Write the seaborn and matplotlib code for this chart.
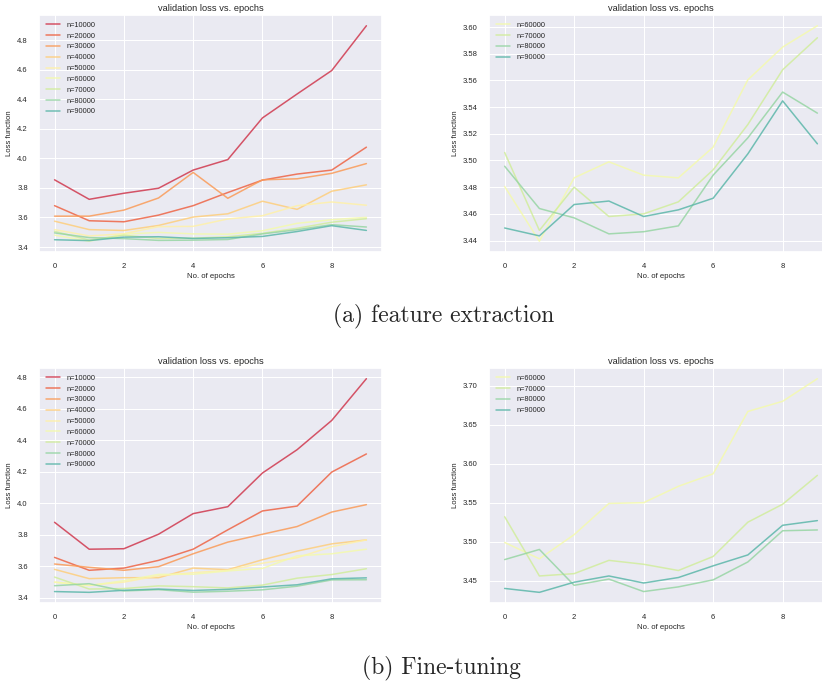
import numpy as np
import pandas as pd
import matplotlib.pyplot as plt
import seaborn as sns

epochs = list(range(10))
sizes = [10000, 20000, 30000, 40000, 50000, 60000, 70000, 80000, 90000]

# feature extraction
fe_10000 = [3.855, 3.723, 3.764, 3.798, 3.921, 3.992, 4.274, 4.436, 4.595, 4.898]
fe_20000 = [3.680, 3.578, 3.571, 3.616, 3.680, 3.769, 3.853, 3.894, 3.921, 4.076]
fe_30000 = [3.609, 3.609, 3.650, 3.732, 3.905, 3.730, 3.855, 3.862, 3.899, 3.965]
fe_40000 = [3.575, 3.518, 3.512, 3.546, 3.603, 3.625, 3.710, 3.655, 3.778, 3.821]
fe_50000 = [3.518, 3.475, 3.490, 3.538, 3.540, 3.590, 3.612, 3.680, 3.705, 3.683]
fe_60000 = [3.4805, 3.4395, 3.487, 3.499, 3.489, 3.487, 3.510, 3.5605, 3.585, 3.601]
fe_70000 = [3.506, 3.4476, 3.480, 3.458, 3.460, 3.469, 3.493, 3.527, 3.568, 3.592]
fe_80000 = [3.4957, 3.464, 3.457, 3.445, 3.4466, 3.451, 3.489, 3.517, 3.5513, 3.5355]
fe_90000 = [3.4494, 3.4435, 3.467, 3.4696, 3.458, 3.463, 3.4717, 3.505, 3.5447, 3.5125]

# fine-tuning
ft_10000 = [3.880, 3.709, 3.712, 3.804, 3.935, 3.979, 4.193, 4.341, 4.527, 4.792]
ft_20000 = [3.657, 3.575, 3.589, 3.638, 3.709, 3.832, 3.952, 3.983, 4.199, 4.314]
ft_30000 = [3.615, 3.594, 3.575, 3.598, 3.680, 3.754, 3.804, 3.853, 3.945, 3.992]
ft_40000 = [3.581, 3.522, 3.528, 3.528, 3.589, 3.579, 3.642, 3.697, 3.743, 3.768]
ft_50000 = [3.500, 3.480, 3.500, 3.540, 3.560, 3.575, 3.620, 3.655, 3.725, 3.768]
ft_60000 = [3.499, 3.478, 3.509, 3.549, 3.550, 3.571, 3.587, 3.667, 3.680, 3.709]
ft_70000 = [3.532, 3.456, 3.459, 3.476, 3.471, 3.463, 3.481, 3.525, 3.548, 3.585]
ft_80000 = [3.477, 3.490, 3.444, 3.452, 3.436, 3.442, 3.451, 3.474, 3.514, 3.515]
ft_90000 = [3.440, 3.435, 3.448, 3.456, 3.447, 3.454, 3.469, 3.483, 3.521, 3.527]

fe_all = [fe_10000, fe_20000, fe_30000, fe_40000, fe_50000,
          fe_60000, fe_70000, fe_80000, fe_90000]
ft_all = [ft_10000, ft_20000, ft_30000, ft_40000, ft_50000,
          ft_60000, ft_70000, ft_80000, ft_90000]

sns.set_theme(style="darkgrid")
plt.rcParams['font.family'] = ['Liberation Sans', 'DejaVu Sans']
plt.rcParams['grid.linewidth'] = 0.75

labels = [f"n={n}" for n in sizes]
colors = sns.color_palette("Spectral", 10)[:9]
pal = dict(zip(labels, colors))


def long_df(series, ns):
    rows = []
    for n, vals in zip(ns, series):
        for e, v in zip(epochs, vals):
            rows.append({"epoch": e, "loss": v, "n": f"n={n}"})
    return pd.DataFrame(rows)


def draw(ax, series, ns):
    df = long_df(series, ns)
    sns.lineplot(data=df, x="epoch", y="loss", hue="n",
                 palette={k: pal[k] for k in df["n"].unique()},
                 ax=ax, linewidth=1.1, alpha=0.85)
    sns.move_legend(ax, "upper left", frameon=False, title=None, fontsize=5.3)
    ax.set_title("validation loss vs. epochs", fontsize=6.7, pad=3)
    ax.set_xlabel("No. of epochs", fontsize=5.6, labelpad=2)
    ax.set_ylabel("Loss function", fontsize=5.6, labelpad=3)
    ax.tick_params(labelsize=5.5, pad=2)
    ax.set_xticks([0, 2, 4, 6, 8])


fig = plt.figure(figsize=(8.22, 6.81), dpi=100)

ax1 = fig.add_axes([0.0474, 0.630, 0.4173, 0.348])
ax2 = fig.add_axes([0.5949, 0.630, 0.4185, 0.348])
ax3 = fig.add_axes([0.0474, 0.1145, 0.4173, 0.3451])
ax4 = fig.add_axes([0.5949, 0.1145, 0.4185, 0.3451])

draw(ax1, fe_all, sizes)
draw(ax2, fe_all[5:], sizes[5:])
draw(ax3, ft_all, sizes)
draw(ax4, ft_all[5:], sizes[5:])

ax2.yaxis.set_major_formatter(plt.FormatStrFormatter('%.2f'))
ax4.yaxis.set_major_formatter(plt.FormatStrFormatter('%.2f'))

fig.text(0.540, 0.536, "(a) feature extraction", fontsize=17,
         family='cmr10', ha='center', va='center')
fig.text(0.537, 0.019, "(b) Fine-tuning", fontsize=17,
         family='cmr10', ha='center', va='center')

fig.savefig("out.png", dpi=100)
